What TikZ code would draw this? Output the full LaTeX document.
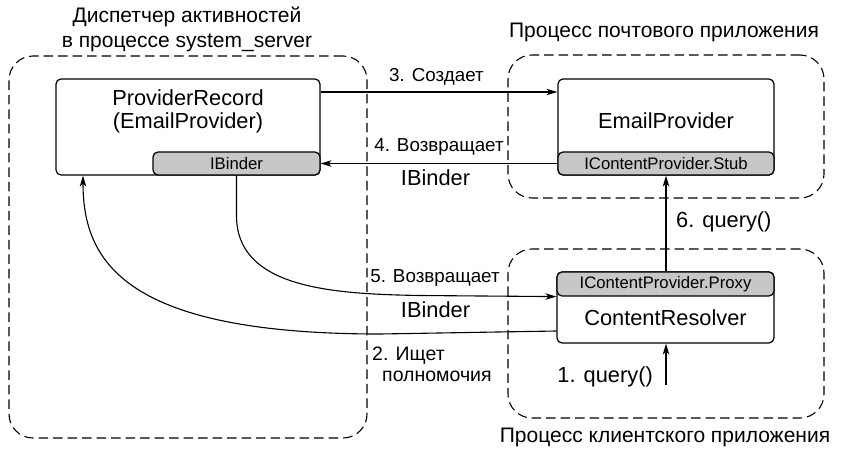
\documentclass[tikz,border=0pt]{standalone}
\usepackage{fontspec}
\setmainfont{Liberation Sans}
\usetikzlibrary{arrows.meta,calc}
\begin{document}
\begin{tikzpicture}[x=1pt,y=-1pt,
  proc/.style={draw, dash pattern=on 9.5pt off 5pt, line width=1.1pt, rounded corners=24pt, inner sep=0pt},
  box/.style={draw, line width=1.2pt, rounded corners=5pt, inner sep=0pt, fill=white},
  sub/.style={draw, fill=black!22, line width=1.2pt, rounded corners=5pt, inner sep=0pt},
  arr/.style={-{Stealth[length=11pt,width=6.5pt,inset=3pt]}, line width=1.1pt},
  ttl/.style={font=\fontsize{21}{25}\selectfont, align=center, inner sep=0pt},
  big/.style={font=\fontsize{21.8}{23}\selectfont, align=center, inner sep=0pt},
  lbl/.style={font=\fontsize{18.8}{20}\selectfont, inner sep=0pt},
  small/.style={font=\fontsize{16.7}{18}\selectfont, inner sep=0pt}
]
\useasboundingbox (0,0) rectangle (849,450);
% process frames
\node[proc, minimum width=358pt, minimum height=382pt] (am) at (188,247) {};
\node[proc, minimum width=316pt, minimum height=143pt] (mail) at (666,126.5) {};
\node[proc, minimum width=316pt, minimum height=169pt] (cli) at (666,333.5) {};
% titles
\node[ttl] (t1) at (187,29.5) {Диспетчер активностей\\в процессе system\_server};
\node[ttl] (t2) at (664,32) {Процесс почтового приложения};
\node[ttl] (t3) at (665,437) {Процесс клиентского приложения};
% boxes
\node[box, minimum width=264pt, minimum height=96pt] (pr) at (188,127) {};
\node[sub, minimum width=167pt, minimum height=23pt] (ib) at (236.5,163.5) {};
\node[small] (ibt) at (ib) {IBinder};
\node[big] (prt) at (188,111.5) {ProviderRecord\\(EmailProvider)};

\node[box, minimum width=216pt, minimum height=96pt] (ep) at (666,127) {};
\node[sub, minimum width=216pt, minimum height=23pt] (stub) at (666,163.5) {};
\node[small] (stubt) at (stub) {IContentProvider.Stub};
\node[big] (ept) at (666,121) {EmailProvider};

\node[box, minimum width=217pt, minimum height=71pt] (cr) at (665.5,307.5) {};
\node[sub, minimum width=217pt, minimum height=24pt] (px) at (665.5,284) {};
\node[small] (pxt) at (px) {IContentProvider.Proxy};
\node[big] (crt) at (665.5,318) {ContentResolver};

% helper coordinates
\coordinate (y92) at (0,92);
\coordinate (y331) at (0,331);
\coordinate (x83) at (83,0);
\coordinate (q1) at (666,385);

% connectors
\draw[arr] (pr.east |- y92) -- (ep.west |- y92);
\draw[arr] (stub.west) -- (ib.east);
\draw[arr] (cr.north -| stub.south) -- (stub.south);
\draw[arr] (q1) -- (q1 |- cr.south);
\draw[arr] (ib.south) -- ++(0,40) .. controls +(0,72) and (330,294) .. (420,295.5) -- (px.south west);
\draw[arr] (cr.west |- y331) -- (380,334) .. controls (125,334) and (83,262) .. (x83 |- pr.south);

% labels
\node[lbl] (l3) at (436.5,77) {3. Создает};
\node[lbl] (l4) at (439,147) {4. Возвращает};
\node[big] (l4b) at (435.5,178) {IBinder};
\node[lbl] (l5) at (435,278) {5. Возвращает};
\node[big] (l5b) at (435.5,310) {IBinder};
\node[align=left, anchor=north west, inner sep=0pt, font=\fontsize{19.5}{20.5}\selectfont] (l2) at (372,347) {2. Ищет\\\hspace*{10pt}полномочия};
\node[big, anchor=west] (l6) at (676,222) {6. query()};
\node[big, anchor=east] (l1) at (653,377) {1. query()};
\end{tikzpicture}
\end{document}
